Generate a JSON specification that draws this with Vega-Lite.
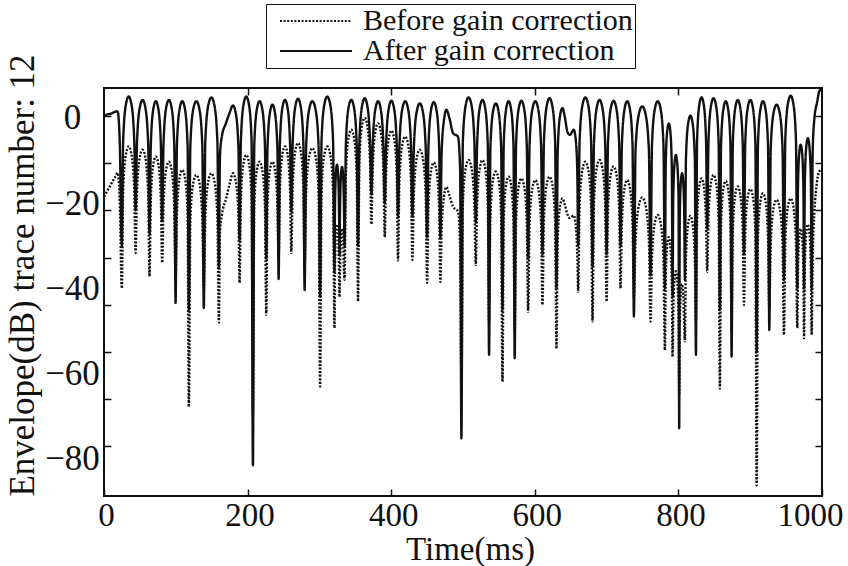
{
 "$schema": "https://vega.github.io/schema/vega-lite/v6.json",
 "width": 718,
 "height": 408,
 "autosize": {"type": "none"},
 "padding": {"left": 104, "top": 88, "right": 26, "bottom": 70},
 "background": "white",
 "config": {
  "view": {"stroke": "#111", "strokeWidth": 2},
  "font": "Liberation Serif",
  "axis": {"domain": false, "grid": false, "labelFont": "Liberation Serif", "titleFont": "Liberation Serif", "labelColor": "#111", "titleColor": "#111", "tickColor": "#111", "tickWidth": 1.5, "labelFontWeight": "normal", "titleFontWeight": "normal"}
 },
 "data": {"values": [
  {"t":0,"a":0.5,"b":-18.5},{"t":5,"a":0.8,"b":-17},{"t":10,"a":1.0,"b":-15.5},{"t":15,"a":1.4,"b":-14},{"t":19,"a":1.5,"b":-12.9},{"t":22,"a":-6,"b":-20},
  {"t":24.8,"a":-30,"b":-40},
  {"t":26.7,"a":-5.2,"b":-16.9},{"t":30.6,"a":3.2,"b":-8.5},{"t":34.4,"a":5.0,"b":-6.7},{"t":38.2,"a":3.2,"b":-8.5},{"t":42.1,"a":-5.2,"b":-16.9},
  {"t":44,"a":-21.7,"b":-31.7},
  {"t":45.9,"a":-6.0,"b":-17.7},{"t":49.8,"a":2.4,"b":-9.3},{"t":53.7,"a":4.2,"b":-7.5},{"t":57.6,"a":2.4,"b":-9.3},{"t":61.5,"a":-6.0,"b":-17.7},
  {"t":63.4,"a":-27.2,"b":-37.2},
  {"t":65.2,"a":-6.3,"b":-19.3},{"t":68.7,"a":2.1,"b":-10.9},{"t":72.2,"a":3.9,"b":-9.1},{"t":75.7,"a":2.1,"b":-10.9},{"t":79.2,"a":-6.3,"b":-19.3},
  {"t":81,"a":-24,"b":-34},
  {"t":82.9,"a":-6.0,"b":-20.5},{"t":86.6,"a":2.4,"b":-12.1},{"t":90.4,"a":4.2,"b":-10.3},{"t":94.1,"a":2.4,"b":-12.1},{"t":97.8,"a":-6.0,"b":-20.5},
  {"t":99.7,"a":-43.4,"b":-38},
  {"t":101.6,"a":-6.3,"b":-22.4},{"t":105.3,"a":2.1,"b":-14.0},{"t":109.0,"a":3.9,"b":-12.2},{"t":112.7,"a":2.1,"b":-14.0},{"t":116.4,"a":-6.3,"b":-22.4},
  {"t":118.2,"a":-45,"b":-67.8},
  {"t":120.3,"a":-6.3,"b":-23.6},{"t":124.4,"a":2.1,"b":-15.2},{"t":128.6,"a":3.9,"b":-13.4},{"t":132.8,"a":2.1,"b":-15.2},{"t":136.9,"a":-6.3,"b":-23.6},
  {"t":139,"a":-44.6,"b":-40},
  {"t":141.1,"a":-5.4,"b":-23.2},{"t":145.3,"a":3.0,"b":-14.8},{"t":149.5,"a":4.8,"b":-13},{"t":153.7,"a":3.0,"b":-14.8},{"t":157.9,"a":-5.4,"b":-23.2},
  {"t":160,"a":-35,"b":-48},
  {"t":161.5,"a":-9,"b":-27},{"t":164,"a":-4.5,"b":-23},{"t":170,"a":-1.2,"b":-19},{"t":175,"a":1.2,"b":-15.5},{"t":179.6,"a":2.9,"b":-13},{"t":183.5,"a":1.1,"b":-14.8},{"t":187.3,"a":-7.3,"b":-23.2},
  {"t":188.8,"a":-28.7,"b":-38.7},
  {"t":190.7,"a":-5.2,"b":-18.9},{"t":194.4,"a":3.2,"b":-10.5},{"t":198.1,"a":5.0,"b":-8.7},{"t":201.8,"a":3.2,"b":-10.5},{"t":205.5,"a":-5.2,"b":-18.9},
  {"t":207.4,"a":-81.5,"b":-70},
  {"t":209.3,"a":-6.3,"b":-20.5},{"t":213.0,"a":2.1,"b":-12.1},{"t":216.7,"a":3.9,"b":-10.3},{"t":220.4,"a":2.1,"b":-12.1},{"t":224.1,"a":-6.3,"b":-20.5},
  {"t":226,"a":-33,"b":-46.2},
  {"t":227.7,"a":-7.1,"b":-20.5},{"t":231.2,"a":1.3,"b":-12.1},{"t":234.6,"a":3.1,"b":-10.3},{"t":238.0,"a":1.3,"b":-12.1},{"t":241.5,"a":-7.1,"b":-20.5},
  {"t":243.2,"a":-37.8,"b":-33},
  {"t":245.0,"a":-6.0,"b":-16.9},{"t":248.5,"a":2.4,"b":-8.5},{"t":252.1,"a":4.2,"b":-6.7},{"t":255.6,"a":2.4,"b":-8.5},{"t":259.1,"a":-6.0,"b":-16.9},
  {"t":260.9,"a":-22,"b":-31.7},
  {"t":262.8,"a":-5.7,"b":-16.1},{"t":266.5,"a":2.7,"b":-7.7},{"t":270.2,"a":4.5,"b":-5.9},{"t":273.9,"a":2.7,"b":-7.7},{"t":277.6,"a":-5.7,"b":-16.1},
  {"t":279.4,"a":-40.4,"b":-35},
  {"t":281.6,"a":-6.3,"b":-17.3},{"t":285.9,"a":2.1,"b":-8.9},{"t":290.2,"a":3.9,"b":-7.1},{"t":294.5,"a":2.1,"b":-8.9},{"t":298.8,"a":-6.3,"b":-17.3},
  {"t":301,"a":-42,"b":-63},
  {"t":303,"a":-5.2,"b":-16.9},{"t":307,"a":3.2,"b":-8.5},{"t":311,"a":5.0,"b":-6.7},{"t":315,"a":3.2,"b":-8.5},{"t":319,"a":-5.2,"b":-16.9},
  {"t":321,"a":-36,"b":-49.3},
  {"t":321.7,"a":-21.2,"b":-35.2},{"t":323.1,"a":-12.8,"b":-26.8},{"t":324.5,"a":-11,"b":-25},{"t":325.9,"a":-12.8,"b":-26.8},{"t":327.3,"a":-21.2,"b":-35.2},
  {"t":328,"a":-32,"b":-42},
  {"t":328.7,"a":-21.7,"b":-36.2},{"t":330.1,"a":-13.3,"b":-27.8},{"t":331.5,"a":-11.5,"b":-26},{"t":332.9,"a":-13.3,"b":-27.8},{"t":334.3,"a":-21.7,"b":-36.2},
  {"t":335,"a":-30,"b":-38},
  {"t":336.9,"a":-6.0,"b":-13.0},{"t":340.6,"a":2.4,"b":-4.6},{"t":344.4,"a":4.2,"b":-2.8},{"t":348.2,"a":2.4,"b":-4.6},{"t":351.9,"a":-6.0,"b":-13.0},
  {"t":353.8,"a":-30,"b":-43},
  {"t":355.7,"a":-5.6,"b":-10.2},{"t":359.4,"a":2.8,"b":-1.8},{"t":363.1,"a":4.6,"b":0},{"t":366.8,"a":2.8,"b":-1.8},{"t":370.5,"a":-5.6,"b":-10.2},
  {"t":372.4,"a":-18,"b":-25},
  {"t":374.3,"a":-6.3,"b":-11.5},{"t":378.0,"a":2.1,"b":-3.1},{"t":381.7,"a":3.9,"b":-1.3},{"t":385.4,"a":2.1,"b":-3.1},{"t":389.1,"a":-6.3,"b":-11.5},
  {"t":391,"a":-20,"b":-28},
  {"t":392.9,"a":-6.2,"b":-13.2},{"t":396.6,"a":2.2,"b":-4.8},{"t":400.3,"a":4.0,"b":-3.0},{"t":404.0,"a":2.2,"b":-4.8},{"t":407.7,"a":-6.2,"b":-13.2},
  {"t":409.5,"a":-23,"b":-33.5},
  {"t":411.5,"a":-6.3,"b":-14.6},{"t":415.5,"a":2.1,"b":-6.2},{"t":419.5,"a":3.9,"b":-4.4},{"t":423.5,"a":2.1,"b":-6.2},{"t":427.5,"a":-6.3,"b":-14.6},
  {"t":429.5,"a":-23,"b":-33.3},
  {"t":431.6,"a":-6.8,"b":-17.7},{"t":435.7,"a":1.6,"b":-9.3},{"t":439.8,"a":3.4,"b":-7.5},{"t":443.9,"a":1.6,"b":-9.3},{"t":448.0,"a":-6.8,"b":-17.7},
  {"t":450,"a":-28,"b":-38.7},
  {"t":451.9,"a":-6.5,"b":-20.7},{"t":455.6,"a":1.9,"b":-12.3},{"t":459.3,"a":3.7,"b":-10.5},{"t":463.0,"a":1.9,"b":-12.3},{"t":466.7,"a":-6.5,"b":-20.7},
  {"t":468.5,"a":-28,"b":-38.5},
  {"t":470.2,"a":-8.3,"b":-26.4},{"t":473.5,"a":-0.5,"b":-18.5},{"t":476.9,"a":1.9,"b":-16.2},{"t":481,"a":0,"b":-18.2},{"t":486.2,"a":-3.6,"b":-20.8},{"t":493,"a":-4.4,"b":-22},{"t":496,"a":-12,"b":-30},
  {"t":497.8,"a":-75.2,"b":-65},
  {"t":499.8,"a":-5.4,"b":-20.1},{"t":503.8,"a":3.0,"b":-11.7},{"t":507.8,"a":4.8,"b":-9.9},{"t":511.8,"a":3.0,"b":-11.7},{"t":515.8,"a":-5.4,"b":-20.1},
  {"t":517.8,"a":-24.5,"b":-34.5},
  {"t":519.7,"a":-6.0,"b":-20.1},{"t":523.4,"a":2.4,"b":-11.7},{"t":527.1,"a":4.2,"b":-9.9},{"t":530.8,"a":2.4,"b":-11.7},{"t":534.5,"a":-6.0,"b":-20.1},
  {"t":536.3,"a":-55.6,"b":-48},
  {"t":538.2,"a":-6.8,"b":-22.8},{"t":541.9,"a":1.6,"b":-14.4},{"t":545.7,"a":3.4,"b":-12.6},{"t":549.4,"a":1.6,"b":-14.4},{"t":553.1,"a":-6.8,"b":-22.8},
  {"t":555,"a":-45,"b":-61.9},
  {"t":556.7,"a":-6.3,"b":-24.0},{"t":560.1,"a":2.1,"b":-15.6},{"t":563.5,"a":3.9,"b":-13.8},{"t":566.9,"a":2.1,"b":-15.6},{"t":570.3,"a":-6.3,"b":-24.0},
  {"t":572,"a":-56.4,"b":-50},
  {"t":573.9,"a":-6.2,"b":-24.4},{"t":577.6,"a":2.2,"b":-16.0},{"t":581.4,"a":4.0,"b":-14.2},{"t":585.1,"a":2.2,"b":-16.0},{"t":588.8,"a":-6.2,"b":-24.4},
  {"t":590.7,"a":-33,"b":-45.5},
  {"t":592.7,"a":-6.3,"b":-24.8},{"t":596.7,"a":2.1,"b":-16.4},{"t":600.7,"a":3.9,"b":-14.6},{"t":604.7,"a":2.1,"b":-16.4},{"t":608.7,"a":-6.3,"b":-24.8},
  {"t":610.7,"a":-32,"b":-43.9},
  {"t":612.7,"a":-5.6,"b":-24.0},{"t":616.6,"a":2.8,"b":-15.6},{"t":620.5,"a":4.6,"b":-13.8},{"t":624.4,"a":2.8,"b":-15.6},{"t":628.3,"a":-5.6,"b":-24.0},
  {"t":630.2,"a":-40,"b":-54.1},
  {"t":631.9,"a":-7.9,"b":-28.5},{"t":635.2,"a":0.5,"b":-20.7},{"t":638.6,"a":2.3,"b":-18.9},{"t":642,"a":0,"b":-20.5},{"t":645.4,"a":-3.3,"b":-22.6},{"t":648.8,"a":-4.0,"b":-23.5},{"t":654.2,"a":-2.8,"b":-22.9},{"t":657.5,"a":-6,"b":-26},{"t":659.3,"a":-14,"b":-33},
  {"t":660.4,"a":-30,"b":-40.8},
  {"t":662.4,"a":-5.4,"b":-20.5},{"t":666.4,"a":3.0,"b":-12.1},{"t":670.4,"a":4.8,"b":-10.3},{"t":674.4,"a":3.0,"b":-12.1},{"t":678.4,"a":-5.4,"b":-20.5},
  {"t":680.4,"a":-35,"b":-47.8},
  {"t":682.4,"a":-6.0,"b":-20.1},{"t":686.3,"a":2.4,"b":-11.7},{"t":690.2,"a":4.2,"b":-9.9},{"t":694.1,"a":2.4,"b":-11.7},{"t":698.0,"a":-6.0,"b":-20.1},
  {"t":700,"a":-32,"b":-43.1},
  {"t":701.9,"a":-6.2,"b":-21.6},{"t":705.8,"a":2.2,"b":-13.2},{"t":709.7,"a":4.0,"b":-11.4},{"t":713.6,"a":2.2,"b":-13.2},{"t":717.5,"a":-6.2,"b":-21.6},
  {"t":719.4,"a":-30,"b":-40},
  {"t":721.3,"a":-6.3,"b":-24.8},{"t":725.0,"a":2.1,"b":-16.4},{"t":728.7,"a":3.9,"b":-14.6},{"t":732.4,"a":2.1,"b":-16.4},{"t":736.1,"a":-6.3,"b":-24.8},
  {"t":738,"a":-46.6,"b":-42},
  {"t":740.3,"a":-7.5,"b":-28.9},{"t":745.0,"a":0.9,"b":-20.5},{"t":749.6,"a":2.7,"b":-18.7},{"t":754.2,"a":0.9,"b":-20.5},{"t":758.9,"a":-7.5,"b":-28.9},
  {"t":761.2,"a":-37,"b":-47.8},
  {"t":763.2,"a":-6.3,"b":-33.0},{"t":767.2,"a":2.1,"b":-24.6},{"t":771.2,"a":3.9,"b":-22.8},{"t":775.2,"a":2.1,"b":-24.6},{"t":779.2,"a":-6.3,"b":-33.0},
  {"t":781.2,"a":-40,"b":-54.5},
  {"t":782.3,"a":-11.5,"b":-38.2},{"t":784.4,"a":-3.1,"b":-29.8},{"t":786.6,"a":-1.3,"b":-28},{"t":788.7,"a":-3.1,"b":-29.8},{"t":790.8,"a":-11.5,"b":-38.2},
  {"t":791.9,"a":-42,"b":-56},
  {"t":792.8,"a":-18.9,"b":-46.2},{"t":794.7,"a":-10.5,"b":-37.8},{"t":796.5,"a":-8.7,"b":-36},{"t":798.3,"a":-10.5,"b":-37.8},{"t":800.2,"a":-18.9,"b":-46.2},
  {"t":801.1,"a":-72.8,"b":-65},
  {"t":801.9,"a":-23.2,"b":-49.2},{"t":803.5,"a":-14.8,"b":-40.8},{"t":805.1,"a":-13,"b":-39},{"t":806.6,"a":-14.8,"b":-40.8},{"t":808.2,"a":-23.2,"b":-49.2},
  {"t":809,"a":-38,"b":-52.4},
  {"t":810.5,"a":-9.7,"b":-33.2},{"t":813.6,"a":-1.3,"b":-24.8},{"t":816.7,"a":0.5,"b":-23},{"t":819.8,"a":-1.3,"b":-24.8},{"t":822.9,"a":-9.7,"b":-33.2},
  {"t":824.4,"a":-55.6,"b":-48},
  {"t":826.0,"a":-5.4,"b":-24.4},{"t":829.1,"a":3.0,"b":-16.0},{"t":832.3,"a":4.8,"b":-14.2},{"t":835.4,"a":3.0,"b":-16.0},{"t":838.5,"a":-5.4,"b":-24.4},
  {"t":840.1,"a":-26,"b":-36.1},
  {"t":841.9,"a":-5.6,"b":-23.6},{"t":845.4,"a":2.8,"b":-15.2},{"t":849.0,"a":4.6,"b":-13.4},{"t":852.5,"a":2.8,"b":-15.2},{"t":856.0,"a":-5.6,"b":-23.6},
  {"t":857.8,"a":-45,"b":-63.5},
  {"t":859.4,"a":-6.3,"b":-25.0},{"t":862.7,"a":2.1,"b":-16.6},{"t":866.0,"a":3.9,"b":-14.8},{"t":869.2,"a":2.1,"b":-16.6},{"t":872.5,"a":-6.3,"b":-25.0},
  {"t":874.1,"a":-56,"b":-50},
  {"t":875.8,"a":-6.0,"b":-26.3},{"t":879.3,"a":2.4,"b":-17.9},{"t":882.7,"a":4.2,"b":-16.1},{"t":886.1,"a":2.4,"b":-17.9},{"t":889.6,"a":-6.0,"b":-26.3},
  {"t":891.3,"a":-32,"b":-43.9},
  {"t":893.1,"a":-6.0,"b":-26.9},{"t":896.6,"a":2.4,"b":-18.5},{"t":900.2,"a":4.2,"b":-16.7},{"t":903.7,"a":2.4,"b":-18.5},{"t":907.2,"a":-6.0,"b":-26.9},
  {"t":909,"a":-55,"b":-86.2},
  {"t":910.8,"a":-6.3,"b":-27.9},{"t":914.3,"a":2.1,"b":-19.5},{"t":917.8,"a":3.9,"b":-17.7},{"t":921.3,"a":2.1,"b":-19.5},{"t":924.8,"a":-6.3,"b":-27.9},
  {"t":926.6,"a":-49.8,"b":-45},
  {"t":928.6,"a":-7.1,"b":-29.4},{"t":932.7,"a":1.3,"b":-21.0},{"t":936.8,"a":3.1,"b":-19.2},{"t":940.9,"a":1.3,"b":-21.0},{"t":945.0,"a":-7.1,"b":-29.4},
  {"t":947,"a":-38,"b":-50.9},
  {"t":948.9,"a":-5.0,"b":-29.1},{"t":952.6,"a":3.4,"b":-20.7},{"t":956.3,"a":5.2,"b":-18.9},{"t":960.0,"a":3.4,"b":-20.7},{"t":963.7,"a":-5.0,"b":-29.1},
  {"t":965.6,"a":-40,"b":-49.3},
  {"t":966.5,"a":-16.5,"b":-36.2},{"t":968.4,"a":-8.1,"b":-27.8},{"t":970.3,"a":-6.3,"b":-26},{"t":972.2,"a":-8.1,"b":-27.8},{"t":974.1,"a":-16.5,"b":-36.2},
  {"t":975,"a":-40,"b":-51.7},
  {"t":976.1,"a":-15.0,"b":-35.2},{"t":978.2,"a":-6.6,"b":-26.8},{"t":980.3,"a":-4.8,"b":-25},{"t":982.4,"a":-6.6,"b":-26.8},{"t":984.5,"a":-15.0,"b":-35.2},
  {"t":985.6,"a":-40,"b":-50.9},
  {"t":987,"a":-8,"b":-33},{"t":989.5,"a":0,"b":-22},{"t":993,"a":3.5,"b":-15},{"t":996.5,"a":6.3,"b":-12.5},{"t":1000,"a":6.8,"b":-12}
 ]},
 "transform": [{"fold": ["b", "a"], "as": ["key", "value"]}],
 "layer": [
  {
   "transform": [{"filter": "datum.key == 'b'"}],
   "mark": {"type": "line", "interpolate": "monotone", "strokeWidth": 2.4, "color": "#111", "clip": true},
   "encoding": {
    "x": {"field": "t", "type": "quantitative", "scale": {"domain": [0, 1000], "nice": false, "zero": false},
     "axis": {"orient": "bottom", "values": [0, 200, 400, 600, 800, 1000], "format": "d", "tickSize": -7, "labelFontSize": 33, "labelPadding": 10, "labelOverlap": false, "labelFlush": false,
      "labelOffset": {"condition": {"test": "datum.value == 1000", "value": -12}, "value": 2},
      "title": "Time(ms)", "titleFontSize": 33, "titleX": 366, "titleY": 53, "titleBaseline": "middle", "titleAlign": "center"}},
    "y": {"field": "value", "type": "quantitative", "scale": {"domain": [-88.7, 7], "nice": false, "zero": false},
     "axis": {"orient": "left", "values": [0, -20, -40, -60, -80], "ticks": false, "labelAlign": "center", "labelPadding": 32, "labelFontSize": 35,
      "title": "Envelope(dB) trace number: 12", "titleFontSize": 35, "titleAngle": 270, "titleX": -82, "titleY": 187, "titleAlign": "center", "titleBaseline": "middle"}},
    "strokeDash": {"field": "key", "type": "nominal",
     "scale": {"domain": ["b", "a"], "range": [[2, 1.6], [1, 0]]},
     "legend": {"orient": "none", "legendX": 162, "legendY": -84, "title": null, "direction": "vertical", "columns": 1, "gridAlign": "all",
      "strokeColor": "#111", "padding": 2, "symbolType": "M-3,0H3", "symbolSize": 576, "symbolStrokeWidth": 2, "symbolStrokeColor": "#111",
      "symbolOffset": 33, "labelFont": "Liberation Serif", "labelFontSize": 30, "labelColor": "#111", "labelOffset": 32, "rowPadding": -8, "labelLimit": 400,
      "labelExpr": "datum.value == 'b' ? 'Before gain correction' : 'After gain correction'"}}
   }
  },
  {
   "transform": [{"filter": "datum.key == 'a'"}],
   "mark": {"type": "line", "interpolate": "monotone", "strokeWidth": 2.4, "color": "#111", "clip": true},
   "encoding": {
    "x": {"field": "t", "type": "quantitative", "scale": {"domain": [0, 1000], "nice": false, "zero": false},
     "axis": {"orient": "top", "values": [200, 400, 600, 800], "tickSize": -7, "labels": false, "title": null}},
    "y": {"field": "value", "type": "quantitative", "scale": {"domain": [-88.7, 7], "nice": false, "zero": false},
     "axis": {"orient": "right", "values": [0.4, -10.6, -21.6, -32.8, -43.9, -54.9, -65.9, -77.0], "tickSize": -7, "labels": false, "title": null}},
    "strokeDash": {"field": "key", "type": "nominal", "scale": {"domain": ["b", "a"], "range": [[2, 1.6], [1, 0]]}}
   }
  },
  {
   "transform": [{"filter": "datum.key == 'a'"}],
   "mark": {"type": "line", "opacity": 0, "clip": true},
   "encoding": {
    "x": {"field": "t", "type": "quantitative", "scale": {"domain": [0, 1000], "nice": false, "zero": false}, "axis": null},
    "y": {"field": "value", "type": "quantitative", "scale": {"domain": [-88.7, 7], "nice": false, "zero": false},
     "axis": {"orient": "left", "values": [0.4, -10.6, -21.6, -32.8, -43.9, -54.9, -65.9, -77.0], "tickSize": -7, "labels": false, "title": null, "offset": 0}}
   }
  }
 ],
 "resolve": {"axis": {"x": "independent", "y": "independent"}}
}
